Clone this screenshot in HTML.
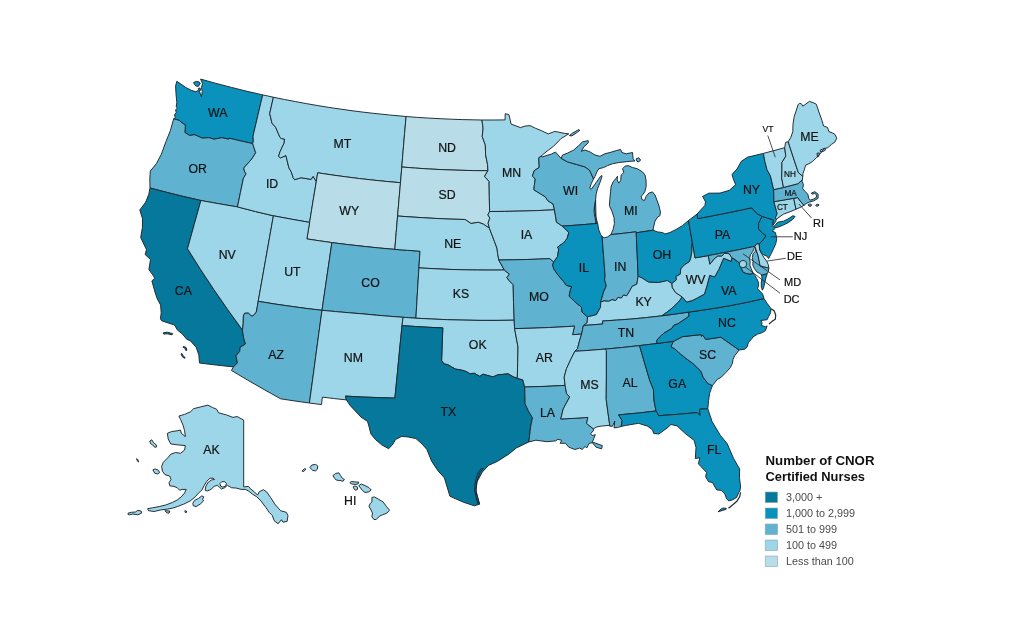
<!DOCTYPE html>
<html><head><meta charset="utf-8"><title>Number of CNOR Certified Nurses</title>
<style>
html,body{margin:0;padding:0;background:#fff}
body{width:1024px;height:640px;overflow:hidden;position:relative;font-family:"Liberation Sans",Arial,sans-serif}
svg{position:absolute;left:0;top:0;filter:blur(0.3px)}
.map path{stroke:#1b262d;stroke-width:0.95;stroke-linejoin:round}
.c0{fill:#06789c}.c1{fill:#0a92bd}.c2{fill:#5fb3d1}.c3{fill:#9dd6e9}.c4{fill:#b9dde8}.c9{fill:#fff}
.lb text{font-family:"Liberation Sans",Arial,sans-serif;fill:#111;stroke:#111;stroke-width:0.2;text-anchor:middle}
.ld line{stroke:#222;stroke-width:0.8}
.lg text{font-family:"Liberation Sans",Arial,sans-serif}
</style></head><body>
<svg width="1024" height="640" viewBox="0 0 1024 640">
<g class="map">
<path class="c1" d="M200.6 79.1L202.6 83.6L201.4 87.5L202.3 91.4L201.4 96.9L199.5 91.4L197.5 90.7L195.9 91.8L191.3 90.3L185.8 87.5L180.3 83.6L176.8 81.3L175.6 86.0L176.0 93.8L176.8 102.4L176.2 106.9L177.5 108.1L175.6 109.7L176.2 112.5L174.4 115.0L175.4 117.5L173.7 118.8L179.3 120.4L182.2 123.0L185.3 124.8L185.2 129.1L184.8 132.4L189.5 135.5L194.6 134.7L202.2 138.1L209.1 137.7L214.1 139.2L221.8 137.7L228.7 139.2L229.2 138.2L241.0 141.0L252.7 143.6L253.4 140.9L253.0 136.3L257.8 115.6L262.7 94.9L247.0 91.3L231.5 87.4L216.0 83.4Z M193.6 82.5L196.3 81.4L199.1 81.9L200.2 83.6L198.3 86.4L195.9 86.0L194.4 84.4Z M198.3 88.5L200.0 87.9L200.6 90.3L199.2 91.0Z"/>
<path class="c2" d="M150.0 188.0L149.8 178.8L150.3 171.1L156.6 163.3L161.3 154.3L165.9 141.7L170.3 130.8L173.7 118.8L179.3 120.4L182.2 123.0L185.3 124.8L185.2 129.1L184.8 132.4L189.5 135.5L194.6 134.7L202.2 138.1L209.1 137.7L214.1 139.2L221.8 137.7L228.7 139.2L229.2 138.2L241.0 141.0L252.7 143.6L253.9 147.3L255.7 152.8L251.9 158.8L249.4 161.7L243.7 168.1L244.7 171.8L246.1 173.8L243.4 178.3L240.4 192.6L237.5 206.9L219.2 203.8L200.9 200.5L183.9 196.6L166.9 192.4Z"/>
<path class="c0" d="M150.0 188.0L148.8 194.3L145.7 202.1L139.8 210.0L142.5 218.7L142.4 227.5L140.7 237.5L146.5 249.7L145.1 254.5L150.5 259.6L148.9 269.6L152.9 275.1L154.7 278.2L151.9 280.9L155.0 292.2L157.3 298.9L160.6 305.0L161.2 313.0L160.4 318.8L161.9 320.9L174.5 325.0L177.5 330.1L182.2 333.8L186.7 339.2L190.5 340.9L196.2 347.4L198.8 354.8L199.5 363.0L216.5 365.1L233.5 366.9L237.4 362.9L236.0 355.8L239.7 351.5L240.2 347.3L245.5 344.0L243.8 338.6L242.3 329.8L227.8 309.7L213.8 289.5L200.4 269.2L187.5 248.7L194.2 224.6L200.9 200.5L183.9 196.6L166.9 192.4Z M163.4 332.8L167.3 332.2L172.8 333.7L172.0 334.8L167.3 333.8L163.7 334.1Z M183.4 346.4L186.1 347.5L186.9 350.3L185.6 350.3L185.0 348.3L183.1 347.3Z M181.9 353.4L183.1 355.8L185.3 357.7L184.4 358.3L182.2 356.6L181.1 354.1Z"/>
<path class="c3" d="M200.9 200.5L194.2 224.6L187.5 248.7L200.4 269.2L213.8 289.5L227.8 309.7L242.3 329.8L242.7 329.0L243.2 323.4L243.4 315.9L244.6 313.3L248.3 313.1L250.2 314.9L252.1 316.3L254.4 314.5L256.3 312.1L257.2 307.4L258.2 301.3L262.0 280.0L265.8 258.6L269.6 237.2L273.4 215.8L255.4 211.5L237.5 206.9L219.2 203.8Z"/>
<path class="c3" d="M237.5 206.9L240.4 192.6L243.4 178.3L246.1 173.8L244.7 171.8L243.7 168.1L249.4 161.7L251.9 158.8L255.7 152.8L253.9 147.3L252.7 143.6L253.4 140.9L253.0 136.3L257.8 115.6L262.7 94.9L273.4 97.2L269.7 113.6L271.6 121.3L271.8 123.0L275.6 127.2L278.4 133.7L280.0 137.4L281.5 138.6L284.6 139.1L284.1 143.3L282.1 147.2L280.0 151.8L278.5 156.3L280.6 157.9L285.9 155.5L287.2 160.8L288.9 167.9L291.2 171.7L293.2 177.7L294.6 179.7L301.1 177.7L311.1 179.4L313.1 176.3L316.3 181.6L312.9 201.9L309.6 222.4L291.5 219.2L273.4 215.8L255.4 211.5Z"/>
<path class="c3" d="M316.3 181.6L313.1 176.3L311.1 179.4L301.1 177.7L294.6 179.7L293.2 177.7L291.2 171.7L288.9 167.9L287.2 160.8L285.9 155.5L280.6 157.9L278.5 156.3L280.0 151.8L282.1 147.2L284.1 143.3L284.6 139.1L281.5 138.6L280.0 137.4L278.4 133.7L275.6 127.2L271.8 123.0L271.6 121.3L269.7 113.6L273.4 97.2L284.5 99.5L295.6 101.6L306.8 103.7L317.9 105.6L328.9 107.4L339.9 109.0L351.0 110.6L362.1 112.0L373.2 113.3L389.6 115.0L406.1 116.5L404.6 133.3L403.2 150.1L401.8 167.0L400.5 182.7L386.8 181.5L373.2 180.1L359.6 178.6L345.6 176.8L331.6 174.9L317.7 172.8Z"/>
<path class="c4" d="M316.3 181.6L317.7 172.8L331.6 174.9L345.6 176.8L359.6 178.6L373.2 180.1L386.8 181.5L400.5 182.7L399.0 199.3L397.6 216.0L396.2 232.7L394.8 249.4L379.4 248.0L364.0 246.4L347.9 244.6L331.9 242.6L319.4 240.8L306.9 238.9L309.6 222.4L312.9 201.9Z"/>
<path class="c3" d="M273.4 215.8L269.6 237.2L265.8 258.6L262.0 280.0L258.2 301.3L274.1 303.9L290.0 306.2L306.0 308.4L322.0 310.3L325.3 287.7L328.6 265.1L331.9 242.6L319.4 240.8L306.9 238.9L309.6 222.4L291.5 219.2Z"/>
<path class="c2" d="M242.3 329.8L243.8 338.6L245.5 344.0L240.2 347.3L239.7 351.5L236.0 355.8L237.4 362.9L233.5 366.9L231.4 370.4L247.6 380.1L264.0 389.5L280.6 398.8L295.0 401.0L309.4 403.0L312.6 379.9L315.7 356.7L318.8 333.5L322.0 310.3L306.0 308.4L290.0 306.2L274.1 303.9L258.2 301.3L257.2 307.4L256.3 312.1L254.4 314.5L252.1 316.3L250.2 314.9L248.3 313.1L244.6 313.3L243.4 315.9L243.2 323.4L242.7 329.0Z"/>
<path class="c2" d="M322.0 310.3L325.3 287.7L328.6 265.1L331.9 242.6L347.9 244.6L364.0 246.4L379.4 248.0L394.8 249.4L407.4 250.3L420.0 251.2L418.9 267.9L417.9 284.7L416.9 301.4L415.9 318.2L403.1 317.3L389.8 316.3L376.5 315.2L363.1 313.9L349.4 312.8L335.7 311.6Z"/>
<path class="c3" d="M322.0 310.3L318.8 333.5L315.7 356.7L312.6 379.9L309.4 403.0L321.5 404.6L322.4 397.1L334.4 398.6L346.4 399.9L345.5 396.1L362.0 397.0L378.4 397.6L394.9 398.1L397.3 374.0L399.6 349.8L402.0 325.6L403.1 317.3L389.8 316.3L376.5 315.2L363.1 313.9L349.4 312.8L335.7 311.6Z"/>
<path class="c4" d="M406.1 116.5L404.6 133.3L403.2 150.1L401.8 167.0L415.6 168.1L429.4 169.0L443.1 169.7L458.0 170.2L472.9 170.6L487.9 170.7L487.6 164.7L485.6 154.8L485.3 144.8L482.2 136.5L483.1 128.2L481.9 120.0L472.1 119.8L462.3 119.6L451.2 119.2L440.1 118.7L428.7 118.1L417.4 117.4Z"/>
<path class="c4" d="M401.8 167.0L400.5 182.7L399.0 199.3L397.6 216.0L410.1 216.9L422.5 217.7L434.9 218.4L450.0 219.1L465.1 219.5L471.1 223.5L478.3 222.3L483.2 224.0L486.9 226.5L489.4 228.2L488.1 223.2L489.8 218.1L487.9 214.8L489.6 211.5L489.3 196.4L489.1 181.4L484.5 176.4L487.9 170.7L472.9 170.6L458.0 170.2L443.1 169.7L429.4 169.0L415.6 168.1Z"/>
<path class="c3" d="M397.6 216.0L396.2 232.7L394.8 249.4L407.4 250.3L420.0 251.2L418.9 267.9L434.0 268.7L449.0 269.4L464.0 269.8L477.5 270.0L490.9 270.1L504.3 270.0L498.8 260.0L497.6 253.3L497.0 248.3L494.5 241.6L491.3 233.2L489.4 228.2L486.9 226.5L483.2 224.0L478.3 222.3L471.1 223.5L465.1 219.5L450.0 219.1L434.9 218.4L422.5 217.7L410.1 216.9Z"/>
<path class="c3" d="M415.9 318.2L416.9 301.4L417.9 284.7L418.9 267.9L434.0 268.7L449.0 269.4L464.0 269.8L477.5 270.0L490.9 270.1L504.3 270.0L509.4 274.2L506.8 277.6L509.4 280.9L513.2 284.7L513.5 302.5L514.2 320.2L497.1 320.4L480.1 320.4L463.0 320.1L447.3 319.7L431.6 319.0Z"/>
<path class="c3" d="M403.1 317.3L415.9 318.2L431.6 319.0L447.3 319.7L463.0 320.1L480.1 320.4L497.1 320.4L514.2 320.2L514.6 328.6L518.0 347.0L517.7 362.7L517.3 378.3L513.4 376.9L508.0 373.8L502.5 374.4L497.8 374.8L493.1 376.9L486.9 375.3L483.0 374.1L479.8 376.4L474.4 373.3L469.7 373.7L466.6 371.7L461.9 370.2L455.6 369.1L451.7 367.0L447.8 364.7L443.9 363.9L441.6 360.4L442.2 344.1L442.8 327.9L429.2 327.3L415.6 326.5L402.0 325.6Z"/>
<path class="c0" d="M402.0 325.6L415.6 326.5L429.2 327.3L442.8 327.9L442.2 344.1L441.6 360.4L443.9 363.9L447.8 364.7L451.7 367.0L455.6 369.1L461.9 370.2L466.6 371.7L469.7 373.7L474.4 373.3L479.8 376.4L483.0 374.1L486.9 375.3L493.1 376.9L497.8 374.8L502.5 374.4L508.0 373.8L513.4 376.9L517.3 378.3L522.8 379.8L524.7 387.0L525.1 403.7L528.8 411.9L532.5 417.7L530.6 426.9L530.0 431.9L528.9 441.9L516.4 447.9L509.1 453.9L497.3 461.4L488.3 465.5L482.3 472.1L476.9 482.0L476.0 491.8L479.0 501.7L479.7 504.2L474.3 505.8L463.6 502.3L449.9 496.2L444.4 477.9L437.8 470.6L431.6 461.2L426.9 449.5L422.2 444.1L415.9 438.6L408.1 437.0L401.9 436.3L395.6 439.4L392.5 444.8L388.6 448.7L381.6 444.8L375.3 439.4L370.9 433.9L369.1 426.9L367.5 421.4L360.9 417.0L350.5 405.9L346.4 399.9L345.5 396.1L362.0 397.0L378.4 397.6L394.9 398.1L397.3 374.0L399.6 349.8Z M483.1 468.6L480.0 472.5L477.2 480.3L475.8 489.7L477.7 497.5L478.9 503.0L477.8 503.7L476.1 497.5L474.5 489.7L475.6 480.3L478.1 472.5L481.2 468.6Z"/>
<path class="c3" d="M481.9 120.0L493.5 120.0L505.1 119.9L505.2 113.7L508.9 114.6L511.1 124.1L520.5 127.6L525.0 126.1L530.1 125.6L535.3 128.2L541.1 130.5L548.2 133.9L554.9 131.4L564.2 133.3L568.8 133.8L561.1 138.5L553.4 146.4L546.1 151.8L541.0 156.2L538.8 157.8L539.2 167.4L534.3 170.6L532.4 176.1L535.3 178.9L534.3 185.6L533.9 189.8L540.2 193.7L545.3 196.8L548.0 200.9L553.1 204.0L554.4 209.8L537.2 210.6L519.9 211.1L504.6 211.4L489.6 211.5L489.3 196.4L489.1 181.4L484.5 176.4L487.9 170.7L487.6 164.7L485.6 154.8L485.3 144.8L482.2 136.5L483.1 128.2Z"/>
<path class="c3" d="M489.6 211.5L504.6 211.4L519.9 211.1L537.2 210.6L554.4 209.8L555.6 216.4L556.5 222.2L562.3 226.1L568.8 232.4L567.2 238.4L563.6 242.8L557.4 247.3L558.7 248.9L557.6 256.5L553.6 262.1L549.7 258.6L538.4 259.1L527.1 259.5L512.9 259.8L498.8 260.0L497.6 253.3L497.0 248.3L494.5 241.6L491.3 233.2L489.4 228.2L488.1 223.2L489.8 218.1L487.9 214.8Z"/>
<path class="c2" d="M498.8 260.0L512.9 259.8L527.1 259.5L538.4 259.1L549.7 258.6L553.6 262.1L552.6 265.2L554.0 269.3L558.0 275.0L563.5 281.4L566.4 285.4L571.7 286.7L570.6 289.3L569.1 296.2L575.7 302.5L581.5 307.1L582.0 312.1L587.5 316.8L587.2 322.7L583.4 325.5L582.5 329.8L581.6 334.1L572.5 334.7L574.6 326.1L562.1 326.9L549.7 327.5L532.1 328.2L514.6 328.6L514.2 320.2L513.5 302.5L513.2 284.7L509.4 280.9L506.8 277.6L509.4 274.2L504.3 270.0Z"/>
<path class="c3" d="M514.6 328.6L532.1 328.2L549.7 327.5L562.1 326.9L574.6 326.1L572.5 334.7L581.6 334.1L579.5 340.9L577.5 348.7L574.9 351.3L571.3 358.3L566.5 368.6L564.2 377.1L565.1 385.4L544.9 386.4L524.7 387.0L522.8 379.8L517.3 378.3L517.7 362.7L518.0 347.0Z"/>
<path class="c2" d="M524.7 387.0L544.9 386.4L565.1 385.4L566.6 393.7L569.7 396.9L563.2 408.9L560.8 419.0L574.4 418.3L587.9 417.4L586.5 423.4L593.3 428.8L593.8 430.0L590.6 433.9L592.2 435.5L595.3 434.7L593.8 438.6L592.2 442.5L596.1 447.2L601.6 448.8L602.3 445.6L593.8 442.5L589.1 443.3L586.7 448.0L585.2 446.4L582.0 449.5L579.7 448.0L575.0 449.5L568.8 447.2L565.6 443.3L560.2 443.3L561.7 440.2L557.8 439.4L555.5 440.9L546.9 441.7L535.9 440.2L528.9 441.9L530.0 431.9L530.6 426.9L532.5 417.7L528.8 411.9L525.1 403.7Z"/>
<path class="c2" d="M561.2 158.4L555.5 152.1L551.5 154.0L542.2 156.9L541.0 156.2L538.8 157.8L539.2 167.4L534.3 170.6L532.4 176.1L535.3 178.9L534.3 185.6L533.9 189.8L540.2 193.7L545.3 196.8L548.0 200.9L553.1 204.0L554.4 209.8L555.6 216.4L556.5 222.2L562.3 226.1L580.0 224.9L597.6 223.4L595.6 216.3L594.4 207.5L595.6 200.0L596.2 225.0L595.6 220.0L594.4 215.0L594.0 210.0L595.0 205.0L595.6 200.0L596.2 193.8L597.5 188.8L600.0 182.5L601.9 176.9L601.9 175.6L600.6 176.2L596.2 182.5L591.2 189.4L589.8 188.1L591.2 183.7L593.5 179.0L591.3 173.8L589.4 170.0L585.0 166.9L576.3 164.4L567.5 161.9Z"/>
<path class="c1" d="M562.3 226.1L580.0 224.9L597.6 223.4L598.8 230.0L600.6 234.4L602.1 236.5L603.6 256.1L605.1 275.7L604.6 280.0L606.4 285.7L603.6 291.9L601.2 300.5L600.7 302.2L600.5 307.3L596.6 314.4L595.3 315.0L587.5 316.8L582.0 312.1L581.5 307.1L575.7 302.5L569.1 296.2L570.6 289.3L571.7 286.7L566.4 285.4L563.5 281.4L558.0 275.0L554.0 269.3L552.6 265.2L553.6 262.1L557.6 256.5L558.7 248.9L557.4 247.3L563.6 242.8L567.2 238.4L568.8 232.4Z"/>
<path class="c2" d="M610.9 234.6L613.1 229.4L614.4 223.7L614.0 217.5L611.9 211.2L609.4 205.6L609.8 200.0L610.0 197.5L610.6 191.2L611.2 186.2L613.1 181.9L615.6 178.8L617.5 176.3L617.2 180.0L618.8 183.1L620.6 180.6L621.2 175.0L623.8 172.5L622.5 168.7L625.0 166.2L628.1 165.6L632.5 167.5L637.5 168.8L642.5 171.9L645.0 175.0L646.0 180.0L646.2 186.2L645.0 191.2L643.1 194.4L641.2 196.2L641.9 199.4L644.4 200.6L646.2 196.3L648.8 193.1L652.5 191.9L655.0 195.0L656.9 200.0L659.1 206.2L660.4 211.9L660.0 215.6L657.5 217.2L655.0 221.2L653.8 226.2L653.0 230.2L636.2 232.8L636.1 231.8L623.5 233.3Z M561.2 158.4L562.5 155.0L567.5 153.1L573.8 150.0L578.7 145.6L582.5 141.9L588.1 140.6L588.5 142.5L583.8 146.9L581.3 151.3L585.0 150.0L590.0 151.9L595.0 155.0L600.0 156.3L605.0 153.7L610.0 152.5L616.3 150.6L620.6 149.4L621.9 152.5L626.2 153.8L632.5 152.5L633.1 158.7L635.0 161.0L630.0 161.3L625.0 161.9L618.8 162.5L612.5 163.8L607.5 165.6L603.8 167.5L598.8 168.7L596.9 171.9L595.0 176.3L593.5 179.0L591.3 173.8L589.4 170.0L585.0 166.9L576.3 164.4L567.5 161.9Z M569.4 135.6L572.5 133.1L578.8 129.6L579.8 130.3L576.2 133.1L571.9 135.9Z M636.2 158.8L638.8 157.8L640.6 160.0L638.8 161.9L636.9 161.3Z"/>
<path class="c2" d="M610.9 234.6L607.5 236.9L604.4 237.8L602.1 236.5L603.6 256.1L605.1 275.7L604.6 280.0L606.4 285.7L603.6 291.9L601.2 300.5L600.7 302.2L604.1 300.9L608.8 301.3L611.9 299.7L615.8 300.5L618.1 297.3L621.3 298.1L623.6 295.0L626.7 295.8L629.1 291.9L632.2 286.4L636.9 284.1L638.1 276.3L637.2 254.5L636.2 232.8L636.1 231.8L623.5 233.3Z"/>
<path class="c1" d="M638.1 276.3L637.2 254.5L636.2 232.8L653.0 230.2L657.5 231.9L662.5 232.5L665.0 234.0L670.0 232.5L676.2 229.4L682.5 225.6L688.5 220.5L692.4 242.7L691.8 245.1L692.0 250.2L690.8 258.1L689.4 261.7L684.1 265.1L680.7 269.0L680.3 274.2L676.0 276.5L676.5 279.8L671.9 283.6L667.3 280.6L658.8 282.5L648.6 282.2L641.6 277.8Z"/>
<path class="c3" d="M587.5 316.8L595.3 315.0L596.6 314.4L600.5 307.3L600.7 302.2L604.1 300.9L608.8 301.3L611.9 299.7L615.8 300.5L618.1 297.3L621.3 298.1L623.6 295.0L626.7 295.8L629.1 291.9L632.2 286.4L636.9 284.1L638.1 276.3L641.6 277.8L648.6 282.2L658.8 282.5L667.3 280.6L671.9 283.6L672.4 287.8L675.8 292.7L682.3 297.0L678.6 301.9L673.9 306.5L669.1 310.6L661.9 315.8L646.3 317.6L630.6 319.1L616.6 320.1L602.5 321.0L602.8 324.0L583.4 325.5L587.2 322.7Z"/>
<path class="c2" d="M583.4 325.5L602.8 324.0L602.5 321.0L616.6 320.1L630.6 319.1L646.3 317.6L661.9 315.8L675.3 314.0L688.7 312.1L689.1 316.1L682.9 320.5L677.9 323.8L674.0 325.2L671.7 328.5L664.1 333.0L660.4 336.3L656.8 340.2L657.0 343.5L639.5 345.6L622.3 347.5L605.0 349.1L590.0 350.3L574.9 351.3L577.5 348.7L579.5 340.9L581.6 334.1L582.5 329.8Z"/>
<path class="c3" d="M574.9 351.3L590.0 350.3L605.0 349.1L606.4 350.6L606.4 375.0L606.2 399.3L608.0 412.8L609.9 426.2L609.4 425.3L601.6 426.1L596.9 426.9L593.3 428.8L586.5 423.4L587.9 417.4L574.4 418.3L560.8 419.0L563.2 408.9L569.7 396.9L566.6 393.7L565.1 385.4L564.2 377.1L566.5 368.6L571.3 358.3Z"/>
<path class="c2" d="M605.0 349.1L622.3 347.5L639.5 345.6L644.6 363.0L649.7 380.3L653.4 389.5L654.1 401.1L656.1 411.0L637.3 413.1L618.6 414.9L622.1 420.5L621.2 426.4L617.6 427.5L614.0 427.9L614.8 421.1L612.4 426.3L609.9 426.2L608.0 412.8L606.2 399.3L606.4 375.0L606.4 350.6Z"/>
<path class="c1" d="M639.5 345.6L657.0 343.5L673.5 341.3L671.0 346.7L674.7 348.8L680.4 353.9L687.6 359.6L693.3 363.8L700.8 371.1L703.3 377.4L707.9 383.5L712.4 385.6L709.6 393.3L708.6 400.3L707.8 408.8L699.7 409.2L700.0 415.6L697.3 412.6L678.0 414.3L658.7 415.7L656.1 411.0L654.1 401.1L653.4 389.5L649.7 380.3L644.6 363.0Z"/>
<path class="c1" d="M656.1 411.0L658.7 415.7L678.0 414.3L697.3 412.6L700.0 415.6L699.7 409.2L707.8 408.8L712.1 421.6L720.4 435.4L727.1 443.5L733.5 458.3L739.6 469.0L739.5 477.8L740.6 487.2L739.8 491.1L738.7 492.7L736.7 497.3L732.8 499.7L728.9 500.9L726.6 498.9L725.0 494.2L721.1 490.3L716.8 489.9L715.6 488.0L712.5 482.5L708.6 481.7L705.5 476.6L706.7 472.6L698.4 463.8L699.8 457.8L695.3 458.5L696.0 447.5L694.1 440.3L685.7 433.9L677.1 425.9L671.0 424.5L667.1 428.0L658.9 434.0L653.7 433.5L652.5 429.8L647.6 426.2L638.5 423.3L625.5 425.5L621.2 426.4L622.1 420.5L618.6 414.9L637.3 413.1Z M726.2 508.4L723.4 508.0L721.1 508.9L718.0 511.8L722.7 510.4L726.2 509.2Z"/>
<path class="c2" d="M673.5 341.3L682.7 336.6L701.1 334.6L701.4 336.3L702.9 335.2L705.7 339.4L720.8 337.2L739.1 350.0L734.8 355.6L733.0 359.4L732.5 363.1L730.2 367.8L725.9 372.5L721.3 377.2L717.3 379.4L712.4 385.6L707.9 383.5L703.3 377.4L700.8 371.1L693.3 363.8L687.6 359.6L680.4 353.9L674.7 348.8L671.0 346.7Z"/>
<path class="c1" d="M657.0 343.5L656.8 340.2L660.4 336.3L664.1 333.0L671.7 328.5L674.0 325.2L677.9 323.8L682.9 320.5L689.1 316.1L688.7 312.1L702.8 310.1L716.9 307.9L731.0 305.5L747.5 302.2L764.0 298.6L767.1 303.3L771.0 308.7L770.6 312.7L768.6 316.6L767.1 319.7L760.8 320.5L762.0 322.8L761.6 325.5L765.5 326.7L767.1 325.9L765.5 330.6L762.4 332.6L757.7 334.1L753.0 336.9L752.2 338.3L748.4 342.5L747.0 347.2L744.7 349.2L740.0 349.8L739.1 350.0L720.8 337.2L705.7 339.4L702.9 335.2L701.4 336.3L701.1 334.6L682.7 336.6L673.5 341.3Z"/>
<path class="c1" d="M661.9 315.8L669.1 310.6L673.9 306.5L678.6 301.9L682.3 297.0L686.8 302.1L692.8 300.3L697.6 297.8L704.4 294.1L706.9 286.0L709.7 275.3L714.6 276.9L718.9 269.3L723.6 258.2L731.1 261.3L731.9 257.9L734.1 258.8L736.4 260.6L739.2 262.7L740.2 266.0L741.4 268.3L743.0 272.1L747.2 273.7L750.9 274.0L753.0 273.0L754.9 275.4L756.8 278.7L758.2 281.9L758.6 285.7L757.5 288.5L758.3 289.5L762.5 293.8L764.0 298.6L747.5 302.2L731.0 305.5L716.9 307.9L702.8 310.1L688.7 312.1L675.3 314.0Z M767.2 273.7L766.1 277.2L764.8 282.4L763.8 287.1L762.4 290.2L761.3 287.1L761.3 282.9L762.0 278.2L761.7 274.9Z"/>
<path class="c3" d="M682.3 297.0L675.8 292.7L672.4 287.8L671.9 283.6L676.5 279.8L676.0 276.5L680.3 274.2L680.7 269.0L684.1 265.1L689.4 261.7L690.8 258.1L692.0 250.2L691.8 245.1L692.4 242.7L695.0 257.9L708.3 255.6L709.9 264.2L714.5 258.5L717.9 255.9L721.9 256.0L724.6 253.2L729.3 253.7L731.9 257.9L731.1 261.3L723.6 258.2L718.9 269.3L714.6 276.9L709.7 275.3L706.9 286.0L704.4 294.1L697.6 297.8L692.8 300.3L686.8 302.1Z"/>
<path class="c1" d="M688.5 220.5L692.4 242.7L695.0 257.9L708.3 255.6L723.8 252.7L739.4 249.6L754.8 246.3L756.8 243.9L759.2 243.9L762.6 240.6L766.1 235.8L761.3 232.2L758.5 228.6L758.6 223.4L762.1 216.4L756.9 213.5L751.7 207.8L733.8 211.6L715.8 215.2L697.8 218.6L697.0 214.1Z"/>
<path class="c2" d="M708.3 255.6L723.8 252.7L739.4 249.6L754.8 246.3L758.0 255.2L760.1 265.8L768.9 268.1L768.3 271.6L767.2 273.7L761.7 274.9L759.8 273.5L757.0 272.1L754.5 268.8L752.8 265.1L753.0 261.3L752.3 257.6L753.0 253.8L754.9 251.9L756.2 247.7L755.2 246.7L754.3 248.2L752.8 251.5L750.5 254.7L749.5 258.5L750.2 262.2L749.8 265.1L751.1 268.3L751.9 270.2L753.0 273.0L750.9 274.0L747.2 273.7L743.0 272.1L741.4 268.3L740.2 266.0L739.2 262.7L736.4 260.6L734.1 258.8L731.9 257.9L729.3 253.7L724.6 253.2L721.9 256.0L717.9 255.9L714.5 258.5L709.9 264.2Z"/>
<path class="c3" d="M754.8 246.3L756.8 243.9L759.2 243.9L759.8 250.1L762.0 254.3L764.1 257.8L766.4 260.8L768.1 264.1L768.9 268.1L760.1 265.8L758.0 255.2Z"/>
<path class="c1" d="M759.2 243.9L762.6 240.6L766.1 235.8L761.3 232.2L758.5 228.6L758.6 223.4L762.1 216.4L773.3 219.9L772.9 225.2L773.5 226.9L774.9 228.8L772.1 231.1L775.4 232.5L776.3 236.2L776.7 238.8L775.8 243.5L773.4 249.1L770.6 254.8L768.6 258.5L766.9 256.2L763.1 254.5L761.2 252.9L759.6 249.1Z"/>
<path class="c1" d="M697.0 214.1L704.9 205.4L705.5 201.8L702.6 196.4L708.8 193.2L720.0 193.1L729.4 190.3L735.6 184.7L732.8 177.6L732.1 174.3L737.0 169.0L741.4 161.2L747.8 157.1L763.4 153.4L764.9 161.6L767.0 169.7L770.4 175.8L773.7 189.6L773.9 201.7L777.2 213.8L775.4 217.7L776.4 219.2L775.7 221.7L772.9 225.2L773.3 219.9L762.1 216.4L756.9 213.5L751.7 207.8L733.8 211.6L715.8 215.2L697.8 218.6Z M774.5 225.9L777.7 222.2L783.4 221.2L788.1 218.9L792.8 215.8L795.1 216.4L792.7 219.4L788.1 222.7L783.4 225.0L778.7 226.9L774.9 227.8Z"/>
<path class="c3" d="M776.4 219.2L775.4 217.7L777.2 213.8L773.9 201.7L783.8 200.0L793.7 198.3L796.0 209.2L790.9 211.4L783.4 214.2Z"/>
<path class="c3" d="M796.0 209.2L793.7 198.3L797.9 197.6L800.2 201.1L804.0 205.3L800.2 207.4Z"/>
<path class="c2" d="M773.9 201.7L773.7 189.6L783.5 187.5L797.9 183.7L802.3 180.0L802.1 181.4L803.5 184.7L802.6 188.4L804.9 191.3L807.8 194.1L808.7 198.3L810.1 200.2L813.4 199.2L816.4 197.3L816.4 194.8L814.8 193.4L812.2 194.2L811.3 193.1L814.8 191.7L818.1 194.1L818.1 198.3L813.8 200.8L809.6 202.0L806.3 203.4L804.0 205.3L800.2 201.1L797.9 197.6L793.7 198.3L783.8 200.0Z M808.2 204.6L810.1 203.9L811.7 204.8L810.8 206.3L808.9 206.1Z M815.7 205.1L817.6 204.2L819.0 204.8L818.1 206.1L816.2 206.1Z"/>
<path class="c3" d="M773.7 189.6L770.4 175.8L767.0 169.7L764.9 161.6L763.4 153.4L774.0 150.6L784.7 147.7L785.8 156.2L781.9 162.5L781.9 169.4L781.7 178.1L783.5 187.5Z"/>
<path class="c3" d="M783.5 187.5L781.7 178.1L781.9 169.4L781.9 162.5L785.8 156.2L784.7 147.7L785.6 142.4L788.2 141.8L793.2 157.1L798.3 172.5L802.8 176.4L802.3 180.0L797.9 183.7Z"/>
<path class="c3" d="M802.8 176.4L798.3 172.5L793.2 157.1L788.2 141.8L790.9 137.2L792.8 131.6L793.0 124.1L794.2 116.6L796.1 111.0L798.0 104.9L799.4 103.3L801.2 103.7L802.9 106.1L805.9 104.0L809.4 101.4L813.0 102.6L816.3 104.2L818.6 111.0L821.9 120.4L823.6 126.0L827.5 127.4L828.9 131.6L832.2 132.8L835.0 134.4L836.7 138.2L835.0 141.9L831.5 144.4L827.8 147.7L824.0 148.7L820.2 153.8L816.5 157.6L812.8 161.3L809.0 163.7L805.7 165.1L804.3 169.8L802.9 173.5Z M820.2 150.1L822.6 149.1L824.9 148.2L825.4 150.1L823.1 151.5L820.7 151.9Z M817.0 153.3L819.3 152.9L818.8 156.2L817.4 157.1Z"/>
<path class="c3" d="M178.9 416.0L184.6 414.4L190.3 411.9L193.6 408.7L200.2 407.0L207.9 405.1L212.5 407.5L216.6 409.2L218.6 412.8L226.4 414.9L233.0 417.4L237.1 416.5L243.7 420.1L243.7 486.9L248.6 486.4L250.2 488.6L254.3 491.8L257.6 495.1L259.2 491.8L263.4 489.7L266.6 491.8L270.7 497.6L274.8 504.1L280.6 510.7L286.3 512.3L288.0 515.6L287.1 521.4L283.0 522.2L281.4 519.7L278.1 523.8L274.0 520.5L272.4 515.6L269.1 512.3L265.8 507.4L260.9 500.9L256.8 496.8L252.7 494.3L248.6 491.0L245.3 489.4L241.2 489.4L236.3 488.1L231.4 487.7L227.3 485.3L224.8 487.7L221.5 489.0L219.1 486.9L217.4 485.3L214.1 486.4L210.9 489.4L207.6 491.0L205.1 490.2L205.9 486.1L208.4 482.0L211.7 479.9L214.5 479.5L213.3 478.2L210.0 478.2L206.8 481.2L204.3 485.3L201.8 490.2L198.5 493.0L195.3 496.8L190.3 500.9L183.8 504.1L177.2 506.6L172.3 508.2L167.4 509.1L160.8 509.9L154.2 511.5L148.5 510.7L147.7 508.7L152.6 507.8L159.2 506.6L165.7 505.0L172.3 502.5L177.2 500.0L181.3 496.8L184.6 493.0L186.2 489.4L182.1 489.4L179.7 490.2L177.2 487.7L173.9 486.4L169.8 485.8L169.0 482.8L171.0 479.5L169.8 476.2L164.9 474.6L162.5 471.3L161.6 466.4L163.3 462.3L167.4 458.2L171.0 454.1L175.6 452.5L180.5 453.3L184.6 450.0L185.4 445.6L177.2 444.8L170.7 443.9L168.2 439.0L167.4 433.3L171.5 431.6L177.2 430.8L180.5 430.0L181.3 433.3L185.4 436.6L184.6 430.8L183.0 425.1L180.5 419.3Z M149.8 441.0L151.8 439.8L153.4 442.6L156.2 444.8L156.7 446.9L154.6 447.2L152.6 444.8L150.5 443.6Z M136.5 458.7L137.8 459.5L138.8 462.0L137.5 461.2Z M152.9 469.9L155.1 468.9L158.4 470.2L159.7 472.6L157.5 474.0L154.6 473.1Z M192.8 503.3L194.4 500.5L198.5 498.4L201.8 495.9L203.8 496.8L202.6 499.2L203.5 500.9L200.2 504.1L196.1 506.6L193.3 505.8Z M128.0 513.2L131.3 512.3L135.4 512.0L137.8 510.4L141.1 511.0L141.5 513.2L137.8 514.8L132.9 514.0L129.6 514.8L128.0 514.5Z M164.9 510.7L169.8 511.0L169.0 513.2L166.6 512.7Z M184.9 510.7L186.6 511.2L186.2 512.8L185.1 512.3Z"/>
<path class="c9" d="M219.9 483.6L221.8 481.7L224.8 481.7L226.4 483.6L225.6 486.1L222.8 487.1L220.7 486.1Z"/>
<path class="c3" d="M301.9 471.0L304.4 468.8L305.9 469.0L303.8 471.5Z M309.8 467.5L311.9 465.0L315.6 464.4L317.8 466.0L317.2 469.4L315.6 470.9L312.5 470.2Z M332.9 475.6L335.6 473.5L338.8 472.8L340.6 475.6L342.5 478.5L344.4 479.4L343.1 481.2L340.0 480.6L336.2 480.0L334.4 478.1Z M349.8 482.8L351.2 481.5L355.0 481.9L358.8 482.2L358.1 484.0L355.0 484.4L351.9 484.0Z M353.1 486.9L355.0 485.9L357.5 487.1L357.5 489.4L355.6 490.2L354.0 488.8Z M358.8 485.6L361.2 484.0L365.0 485.6L368.8 487.5L371.2 490.0L368.8 491.9L365.0 492.5L362.5 490.6L360.6 488.1Z M371.9 497.5L374.4 496.9L378.8 499.4L383.1 501.9L386.2 506.2L389.6 510.2L386.9 513.1L382.5 514.8L379.4 516.2L376.2 519.6L373.8 519.4L371.9 516.9L372.5 513.1L371.0 510.0L369.0 506.2L370.0 503.8L371.9 501.9Z"/>
<path d="M771.0 308.7L774.1 310.7L775.7 315.0L775.3 319.3L771.8 321.6L769.0 324.0" style="fill:none;stroke-width:1.2"/>
<path d="M740.6 492.3L739.7 496.6L736.9 501.2L732.8 504.8L728.5 508.3" style="fill:none;stroke-width:1.2"/>
</g>
<circle cx="743" cy="264.1" r="3.7" fill="#9dd6e9" stroke="#1b262d" stroke-width="0.9"/>
<g class="lb">
<text x="217.75" y="116.65" font-size="12.3">WA</text>
<text x="197.75" y="172.5" font-size="12.3">OR</text>
<text x="183.4" y="294.65" font-size="12.3">CA</text>
<text x="227.25" y="258.9" font-size="12.3">NV</text>
<text x="272.1" y="187.8" font-size="12.3">ID</text>
<text x="342.4" y="147.8" font-size="12.3">MT</text>
<text x="349.25" y="214.65" font-size="12.3">WY</text>
<text x="292.4" y="275.9" font-size="12.3">UT</text>
<text x="276.1" y="358.5" font-size="12.3">AZ</text>
<text x="370.6" y="286.9" font-size="12.3">CO</text>
<text x="353.4" y="361.5" font-size="12.3">NM</text>
<text x="447.1" y="151.65" font-size="12.3">ND</text>
<text x="447" y="198.9" font-size="12.3">SD</text>
<text x="452.75" y="247.9" font-size="12.3">NE</text>
<text x="460.9" y="298.15" font-size="12.3">KS</text>
<text x="477.75" y="348.9" font-size="12.3">OK</text>
<text x="448.4" y="416.15" font-size="12.3">TX</text>
<text x="511.5" y="177.15" font-size="12.3">MN</text>
<text x="526.5" y="238.65" font-size="12.3">IA</text>
<text x="539" y="301.3" font-size="12.3">MO</text>
<text x="544.4" y="361.65" font-size="12.3">AR</text>
<text x="547.4" y="417.3" font-size="12.3">LA</text>
<text x="570.6" y="195.4" font-size="12.3">WI</text>
<text x="584" y="271.65" font-size="12.3">IL</text>
<text x="630.9" y="214.8" font-size="12.3">MI</text>
<text x="620.25" y="271.15" font-size="12.3">IN</text>
<text x="661.9" y="258.9" font-size="12.3">OH</text>
<text x="643.6" y="306.4" font-size="12.3">KY</text>
<text x="625.9" y="336.65" font-size="12.3">TN</text>
<text x="589.4" y="389.4" font-size="12.3">MS</text>
<text x="630" y="387.4" font-size="12.3">AL</text>
<text x="677.25" y="388.4" font-size="12.3">GA</text>
<text x="714.1" y="454.15" font-size="12.3">FL</text>
<text x="707.5" y="359.15" font-size="12.3">SC</text>
<text x="726.9" y="326.65" font-size="12.3">NC</text>
<text x="728.75" y="294.65" font-size="12.3">VA</text>
<text x="695.6" y="283.7" font-size="12.3">WV</text>
<text x="722.5" y="238.65" font-size="12.3">PA</text>
<text x="751.5" y="193.8" font-size="12.3">NY</text>
<text x="809.4" y="141" font-size="12.3">ME</text>
<text x="211.5" y="453.9" font-size="12.3">AK</text>
<text x="350.25" y="505" font-size="12.3">HI</text>
<text x="768.1" y="131.846" font-size="8.6">VT</text>
<text x="790" y="177.052" font-size="8.2">NH</text>
<text x="790.6" y="195.602" font-size="8.2">MA</text>
<text x="782.4" y="209.652" font-size="8.2">CT</text>
<text x="818.5" y="226.66" font-size="11">RI</text>
<text x="800.6" y="240.21" font-size="11">NJ</text>
<text x="794.75" y="259.96" font-size="11">DE</text>
<text x="792.6" y="286.46" font-size="11">MD</text>
<text x="791.6" y="303.36" font-size="11">DC</text>
</g><g class="ld">
<line x1="767.8" y1="135.5" x2="775.3" y2="157.3" stroke-width="0.9"/>
<line x1="798.8" y1="203.9" x2="811.5" y2="218" stroke-width="1"/>
<line x1="770.7" y1="236.8" x2="792.75" y2="236.8" stroke-width="1.5"/>
<line x1="766.9" y1="261.1" x2="785.6" y2="258.3" stroke-width="1"/>
<line x1="743" y1="253.8" x2="780" y2="279.9" stroke-width="1"/>
<line x1="744.8" y1="266.5" x2="780" y2="293.2" stroke-width="1"/>
</g>
<g class="lg">
<text x="765.5" y="465" font-size="12.6" font-weight="bold" fill="#111" textLength="109" lengthAdjust="spacingAndGlyphs">Number of CNOR</text>
<text x="765.5" y="481" font-size="12.6" font-weight="bold" fill="#111" textLength="99.5" lengthAdjust="spacingAndGlyphs">Certified Nurses</text>
<rect x="765.2" y="492" width="12.4" height="10.6" fill="#06789c" stroke="#8aa9b5" stroke-width="0.6"/>
<text x="786" y="501" font-size="10.8" fill="#4a4a4a">3,000 +</text>
<rect x="765.2" y="508" width="12.4" height="10.6" fill="#0a92bd" stroke="#8aa9b5" stroke-width="0.6"/>
<text x="786" y="517" font-size="10.8" fill="#4a4a4a">1,000 to 2,999</text>
<rect x="765.2" y="524" width="12.4" height="10.6" fill="#5fb3d1" stroke="#8aa9b5" stroke-width="0.6"/>
<text x="786" y="533" font-size="10.8" fill="#4a4a4a">501 to 999</text>
<rect x="765.2" y="540" width="12.4" height="10.6" fill="#9dd6e9" stroke="#8aa9b5" stroke-width="0.6"/>
<text x="786" y="549" font-size="10.8" fill="#4a4a4a">100 to 499</text>
<rect x="765.2" y="556" width="12.4" height="10.6" fill="#b9dde8" stroke="#8aa9b5" stroke-width="0.6"/>
<text x="786" y="565" font-size="10.8" fill="#4a4a4a">Less than 100</text>
</g>
</svg>
</body></html>
